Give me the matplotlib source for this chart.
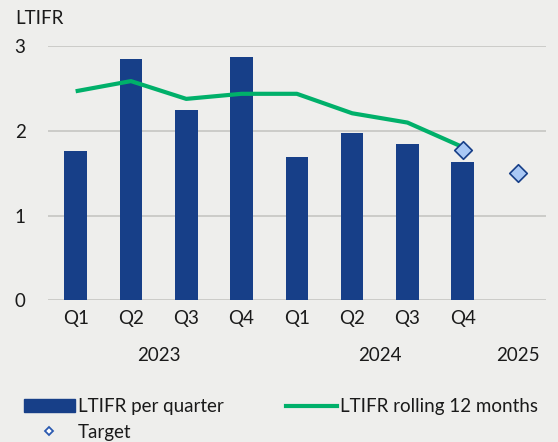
import matplotlib
matplotlib.use("Agg")
import matplotlib.pyplot as plt
from matplotlib.lines import Line2D
from matplotlib.patches import Patch

plt.rcParams['font.family'] = ['Lato', 'DejaVu Sans']

quarters = ["Q1", "Q2", "Q3", "Q4", "Q1", "Q2", "Q3", "Q4", ""]
years = ["2023", "2024", "2025"]
ltifr_quarter = [1.76, 2.85, 2.25, 2.87, 1.69, 1.98, 1.85, 1.63]
ltifr_rolling = [2.47, 2.59, 2.38, 2.44, 2.44, 2.21, 2.10, 1.81]
target_pos = [7, 8]
target_vals = [1.78, 1.50]

bg = "#eeeeec"
bar_color = "#173f88"
line_color = "#00b06a"
grid_color = "#c6c6c2"
text_color = "#1a1a1a"
fs = 13.5

fig = plt.figure(figsize=(5.58, 4.42), dpi=100, facecolor=bg)
ax = fig.add_axes([0.086, 0.3206, 0.892, 0.5744])
ax.set_facecolor(bg)

x = list(range(len(ltifr_quarter)))
ax.bar(x, ltifr_quarter, width=0.41, color=bar_color, zorder=2)
ax.plot(x, ltifr_rolling, color=line_color, lw=3, zorder=3, solid_capstyle='butt')
ax.scatter(target_pos, target_vals, marker='D', s=80, facecolor="#a9c8f5",
           edgecolor=bar_color, linewidth=1.2, zorder=4)

ax.set_xlim(-0.5, 8.5)
ax.set_ylim(0, 3)
ax.set_yticks([0, 1, 2, 3])
ax.yaxis.grid(True, color=grid_color, lw=1.2, zorder=0)
ax.set_axisbelow(True)
for s in ax.spines.values():
    s.set_visible(False)
ax.tick_params(axis='y', length=0, labelsize=fs, colors=text_color, pad=24)
for lab in ax.get_yticklabels():
    lab.set_horizontalalignment('left')
ax.set_xticks(range(9))
ax.set_xticklabels(quarters)
ax.tick_params(axis='x', length=0, labelsize=fs, colors=text_color, pad=7)

year_pos = [1.5, 5.5, 8]
for p, yl in zip(year_pos, years):
    ax.text(p, -0.65, yl, ha='center', va='center', fontsize=fs, color=text_color,
            transform=ax.transData)

fig.text(0.027, 0.958, "LTIFR", fontsize=fs, color=text_color, va='center', ha='left')

handles = [Patch(color=bar_color),
           Line2D([], [], marker='D', ls='none', markersize=4, markerfacecolor="#ffffff",
                  markeredgecolor="#2c5ab0", markeredgewidth=1.3),
           Line2D([], [], color=line_color, lw=3)]
labels = ["LTIFR per quarter", "Target", "LTIFR rolling 12 months"]
leg = fig.legend(handles, labels, ncol=2, loc='lower left', bbox_to_anchor=(0.012, -0.035),
                 frameon=False, fontsize=fs, handlelength=2.75, handletextpad=0.15,
                 columnspacing=3.3, labelspacing=0.45, labelcolor=text_color)

fig.savefig("out.png", dpi=100, facecolor=bg)
